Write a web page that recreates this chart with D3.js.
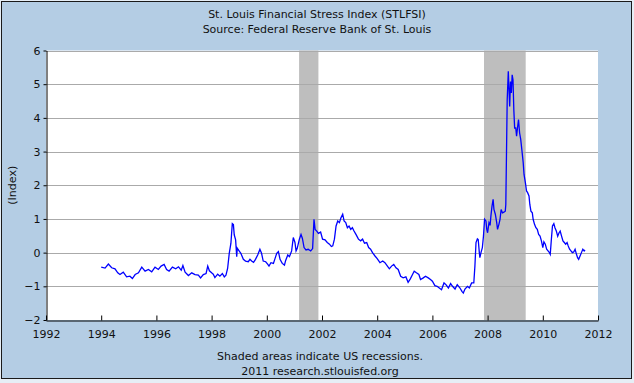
<!DOCTYPE html>
<html>
<head>
<meta charset="utf-8">
<script src="https://cdn.jsdelivr.net/npm/d3@7"></script>
<style>
  html, body { margin: 0; padding: 0; background: #e6eef6; }
  svg { display: block; font-family: "DejaVu Sans", Verdana, sans-serif; }
</style>
</head>
<body>
<div id="app"></div>
<script>
// weekly-ish readings of the index, as decimal years
const dates = [
  1994.0, 1994.14, 1994.26, 1994.38, 1994.5, 1994.6, 1994.68, 1994.8, 1994.92,
  1995.04, 1995.13, 1995.23, 1995.35, 1995.47, 1995.59, 1995.71, 1995.83, 1995.95,
  1996.07, 1996.17, 1996.28, 1996.37, 1996.46, 1996.58, 1996.7, 1996.8, 1996.9, 1996.96,
  1997.04, 1997.16, 1997.28, 1997.4, 1997.52, 1997.6, 1997.7, 1997.8, 1997.86, 1997.92,
  1998.0, 1998.06, 1998.12, 1998.22, 1998.3, 1998.39, 1998.46, 1998.52, 1998.58, 1998.64,
  1998.7, 1998.75, 1998.79, 1998.82, 1998.87, 1998.91, 1998.93, 1998.99,
  1999.06, 1999.15, 1999.23, 1999.33, 1999.39, 1999.45, 1999.52, 1999.59, 1999.67,
  1999.75, 1999.81, 1999.87, 1999.96,
  2000.03, 2000.08, 2000.15, 2000.24, 2000.3, 2000.36, 2000.42, 2000.48, 2000.56,
  2000.64, 2000.68, 2000.76, 2000.82, 2000.9, 2000.96,
  2001.02, 2001.06, 2001.1, 2001.18, 2001.24, 2001.29, 2001.35, 2001.42, 2001.5,
  2001.59, 2001.66, 2001.71, 2001.75, 2001.81, 2001.87, 2001.95,
  2002.02, 2002.11, 2002.19, 2002.27, 2002.34, 2002.39, 2002.45, 2002.51, 2002.57,
  2002.63, 2002.69, 2002.75, 2002.8, 2002.86, 2002.92, 2002.98,
  2003.04, 2003.1, 2003.16, 2003.23, 2003.32, 2003.4, 2003.47, 2003.54, 2003.62,
  2003.69, 2003.76, 2003.83, 2003.92,
  2004.0, 2004.1, 2004.2, 2004.28, 2004.37, 2004.44, 2004.52, 2004.6, 2004.68,
  2004.76, 2004.85, 2004.94,
  2005.04, 2005.12, 2005.2, 2005.28, 2005.34, 2005.42, 2005.51, 2005.57, 2005.67,
  2005.75, 2005.85, 2005.93,
  2006.0, 2006.09, 2006.17, 2006.25, 2006.33, 2006.42, 2006.49, 2006.58, 2006.66,
  2006.73, 2006.82, 2006.9,
  2007.0, 2007.07, 2007.12, 2007.18, 2007.27, 2007.34, 2007.42, 2007.5, 2007.54,
  2007.58, 2007.63, 2007.66, 2007.7, 2007.72, 2007.76, 2007.81, 2007.85, 2007.89,
  2007.94, 2007.97,
  2008.0, 2008.05, 2008.09, 2008.12, 2008.16, 2008.2, 2008.23, 2008.28, 2008.33,
  2008.36, 2008.41, 2008.45, 2008.49, 2008.54, 2008.59, 2008.64, 2008.66, 2008.68,
  2008.71, 2008.75, 2008.78, 2008.8, 2008.83, 2008.86, 2008.89, 2008.92, 2008.95, 2008.98,
  2009.02, 2009.05, 2009.09, 2009.12, 2009.16, 2009.2, 2009.24, 2009.29, 2009.32,
  2009.37, 2009.41, 2009.45, 2009.5, 2009.53, 2009.57, 2009.62, 2009.65, 2009.7,
  2009.75, 2009.8, 2009.85, 2009.9, 2009.95,
  2010.0, 2010.04, 2010.09, 2010.14, 2010.19, 2010.24, 2010.27, 2010.31, 2010.35,
  2010.4, 2010.44, 2010.49, 2010.54, 2010.59, 2010.63, 2010.68, 2010.73, 2010.78,
  2010.83, 2010.88, 2010.92, 2010.97,
  2011.02, 2011.07, 2011.12, 2011.17, 2011.22, 2011.26, 2011.3, 2011.35, 2011.4,
  2011.45, 2011.5, 2011.53
];
const stress = [
  -0.43, -0.46, -0.34, -0.45, -0.48, -0.6, -0.65, -0.58, -0.72,
  -0.7, -0.77, -0.65, -0.6, -0.43, -0.55, -0.5, -0.57, -0.43,
  -0.5, -0.4, -0.35, -0.5, -0.55, -0.43, -0.48, -0.42, -0.52, -0.38,
  -0.58, -0.68, -0.6, -0.65, -0.67, -0.75, -0.65, -0.62, -0.4, -0.54,
  -0.6, -0.64, -0.74, -0.64, -0.7, -0.62, -0.72, -0.67, -0.47, -0.02,
  0.28, 0.86, 0.83, 0.53, 0.38, -0.12, 0.13, 0.06,
  -0.02, -0.2, -0.25, -0.27, -0.2, -0.25, -0.29, -0.2, -0.07,
  0.1, -0.02, -0.25, -0.27,
  -0.34, -0.4, -0.3, -0.32, -0.17, -0.02, 0.03, -0.2, -0.32,
  -0.37, -0.24, -0.07, -0.12, 0.05, 0.45,
  0.3, 0.05, 0.12, 0.4, 0.54, 0.42, 0.15, 0.08, 0.1,
  0.05, 0.12, 0.99, 0.69, 0.64, 0.57, 0.61,
  0.4, 0.38, 0.3, 0.25, 0.18, 0.2, 0.4, 0.79, 0.94,
  0.89, 1.04, 1.14, 0.94, 0.89, 0.74, 0.79,
  0.69, 0.74, 0.64, 0.54, 0.4, 0.35, 0.4, 0.28, 0.3,
  0.15, 0.1, 0.0, -0.1,
  -0.18, -0.3, -0.25, -0.3, -0.4, -0.48, -0.4, -0.35, -0.45,
  -0.5, -0.7, -0.75,
  -0.72, -0.88, -0.78, -0.65, -0.55, -0.6, -0.65, -0.8, -0.75,
  -0.7, -0.75, -0.8,
  -0.85, -0.98, -1.0, -1.05, -1.1, -0.9, -0.95, -1.05, -0.92,
  -1.0, -1.08, -0.95,
  -1.05, -1.15, -1.2, -1.08, -1.0, -1.05, -0.9, -0.9, -0.4,
  0.3, 0.41, 0.39, 0.0, -0.15, 0.0, 0.15, 0.49, 0.99,
  0.94, 0.69,
  0.59, 0.89, 0.81, 1.09, 1.38, 1.58, 1.28, 1.14, 0.89,
  0.69, 0.84, 0.99, 1.28, 1.18, 1.2, 1.23, 1.43, 2.67,
  4.54, 5.38, 4.74, 4.34, 5.08, 4.74, 5.28, 5.13, 4.24, 3.7,
  3.7, 3.46, 3.75, 3.95, 3.55, 3.36, 3.06, 2.67, 2.32,
  2.07, 1.83, 1.78, 1.68, 1.43, 1.23, 1.18, 0.99, 0.84,
  0.74, 0.69, 0.54, 0.49, 0.35,
  0.15, 0.32, 0.25, 0.1, 0.05, 0.0, -0.05, 0.39, 0.79,
  0.86, 0.74, 0.64, 0.49, 0.59, 0.64, 0.49, 0.35, 0.3,
  0.25, 0.3, 0.2, 0.1,
  0.05, 0.0, 0.02, 0.1, -0.05, -0.15, -0.2, -0.1, 0.0,
  0.1, 0.05, 0.08
];
const recessions = [[2001.17, 2001.87], [2007.87, 2009.38]];
const yearTicks = [1992, 1994, 1996, 1998, 2000, 2002, 2004, 2006, 2008, 2010, 2012];
const indexTicks = [-2, -1, 0, 1, 2, 3, 4, 5, 6];
const titleLines = ["St. Louis Financial Stress Index (STLFSI)", "Source: Federal Reserve Bank of St. Louis"];
const footLines = ["Shaded areas indicate US recessions.", "2011 research.stlouisfed.org"];

const W = 634, H = 383;
const svg = d3.select('#app').append('svg').attr('width', W).attr('height', H);

// frame
svg.append('rect').attr('x', 1.5).attr('y', 1.5).attr('width', 630).attr('height', 377)
  .attr('fill', '#b4cde4').attr('stroke', '#1a1a1a').attr('stroke-width', 1);

const x = d3.scaleLinear().domain([1992, 2012]).range([46, 598]);
const y = d3.scaleLinear().domain([-2, 6]).range([320, 50.5]);

svg.append('rect').attr('x', x(1992)).attr('y', y(6))
  .attr('width', x(2012) - x(1992)).attr('height', y(-2) - y(6)).attr('fill', '#fff');

svg.selectAll('rect.rec').data(recessions).enter().append('rect')
  .attr('class', 'rec')
  .attr('x', d => x(d[0])).attr('width', d => x(d[1]) - x(d[0]))
  .attr('y', y(6)).attr('height', y(-2) - y(6))
  .attr('fill', '#bebebe');

// gridlines
svg.append('g').selectAll('line').data(indexTicks.filter(d => d > -2)).enter().append('line')
  .attr('x1', x(1992)).attr('x2', x(2012))
  .attr('y1', d => Math.round(y(d)) + 0.5).attr('y2', d => Math.round(y(d)) + 0.5)
  .attr('stroke', '#aaaaaa').attr('stroke-width', 1);

const pts = dates.map((d, i) => [d, stress[i]]);
svg.append('path').datum(pts)
  .attr('fill', 'none').attr('stroke', '#0000ff').attr('stroke-width', 1.3)
  .attr('d', d3.line().x(d => x(d[0])).y(d => y(d[1])));

// axes
const xAxis = d3.axisBottom(x).tickValues(yearTicks).tickFormat(d3.format('d'))
  .tickSizeInner(-5).tickSizeOuter(0).tickPadding(10);
const gx = svg.append('g').attr('transform', `translate(0,${Math.round(y(-2)) + 0.5})`).call(xAxis);
const yAxis = d3.axisLeft(y).tickValues(indexTicks).tickSizeInner(3).tickSizeOuter(0).tickPadding(3);
const gy = svg.append('g').attr('transform', `translate(${x(1992) + 0.5},0)`).call(yAxis);
[gx, gy].forEach(g => {
  g.selectAll('path').attr('stroke', '#000');
  g.selectAll('line').attr('stroke', '#000');
  g.selectAll('text').attr('fill', '#111').style('font-size', '11px')
    .style('font-family', '"DejaVu Sans", Verdana, sans-serif');
});

svg.append('text').attr('transform', `translate(16,${(y(6) + y(-2)) / 2}) rotate(-90)`)
  .attr('text-anchor', 'middle').style('font-size', '11px').attr('fill', '#111')
  .text('(Index)');

svg.selectAll('text.title').data(titleLines).enter().append('text')
  .attr('class', 'title').attr('x', 317).attr('y', (d, i) => 18 + i * 15)
  .attr('text-anchor', 'middle').style('font-size', '11px').attr('fill', '#111')
  .text(d => d);

svg.selectAll('text.foot').data(footLines).enter().append('text')
  .attr('class', 'foot').attr('x', 320).attr('y', (d, i) => 360 + i * 15)
  .attr('text-anchor', 'middle').style('font-size', '11px').attr('fill', '#111')
  .text(d => d);
</script>
</body>
</html>
